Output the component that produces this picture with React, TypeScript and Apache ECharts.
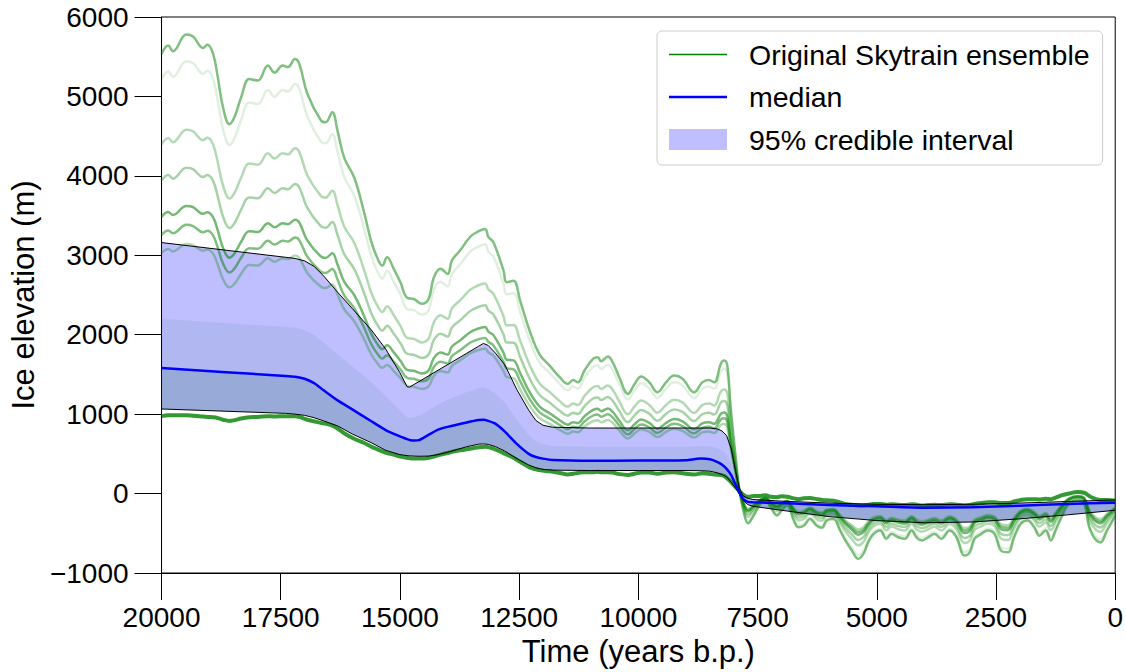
import React, { useEffect, useRef } from 'react';
import * as echarts from 'echarts';

// ---- time grid for the ensemble members (years b.p.) ----
const times = [
  20000, 19860, 19760, 19480, 19340, 19130, 19040, 18920, 18820, 18710,
  18575, 18470, 18330, 18160, 17980, 17770, 17630, 17460, 17350, 17200,
  17110, 16940, 16660, 16560, 16420, 16310, 16170, 15960, 15760, 15600,
  15480, 15370, 15270, 15130, 14990, 14850, 14710, 14540, 14400, 14290,
  14150, 14000, 13910, 13740, 13530, 13390, 13215, 13145, 13040, 12830,
  12760, 12620, 12480, 12280, 12070, 11860, 11650, 11480, 11370, 11270,
  11130, 10950, 10850, 10780, 10640, 10540, 10400, 10220, 10080, 9940,
  9770, 9600, 9420, 9250, 9075, 8830, 8660, 8520, 8410, 8270,
  8200, 8135, 8065, 7960, 7890, 7790, 7700, 7580, 7440, 7330,
  7230, 7090, 7000, 6880, 6740, 6640, 6530, 6400, 6260, 6150,
  6050, 5910, 5770, 5660, 5520, 5390, 5280, 5180, 5070, 4930,
  4800, 4690, 4550, 4410, 4270, 4170, 4060, 3920, 3790, 3650,
  3470, 3330, 3160, 3050, 2950, 2810, 2670, 2530, 2390, 2250,
  2120, 1980, 1840, 1700, 1590, 1460, 1350, 1250, 1110, 970,
  790, 650, 520, 310, 170, 0,
];

// most extreme member (highest at LGM, lowest in Holocene)
const ensembleA = [
  5536, 5640, 5570, 5780, 5755, 5610, 5650, 5540, 5240, 4860,
  4650, 4740, 4990, 5220, 5200, 5390, 5300, 5390, 5370, 5470,
  5410, 5030, 4700, 4675, 4800, 4570, 4230, 3980, 3560, 3170,
  2975, 2870, 2975, 2830, 2660, 2465, 2450, 2390, 2450, 2720,
  2830, 2765, 2935, 3060, 3230, 3290, 3330, 3230, 3165, 2810,
  2660, 2680, 2430, 2050, 1750, 1610, 1465, 1380, 1430, 1400,
  1550, 1695, 1715, 1665, 1725, 1655, 1465, 1255, 1380, 1475,
  1400, 1275, 1400, 1485, 1445, 1275, 1400, 1430, 1400, 1635,
  1675, 1610, 1090, 460, 80, -235, -375, -275, -130, -90,
  -170, -275, -215, -150, -340, -425, -405, -320, -405, -430,
  -340, -320, -465, -590, -720, -820, -760, -615, -510, -465,
  -570, -510, -550, -570, -465, -550, -590, -550, -510, -570,
  -465, -550, -780, -740, -570, -510, -465, -510, -720, -740,
  -550, -380, -340, -425, -530, -465, -590, -465, -275, -130,
  -90, -130, -465, -615, -465, -280,
];

const ensembleB = [
  5217, 5314, 5249, 5444, 5421, 5285, 5322, 5219, 4940, 4585,
  4389, 4473, 4707, 4922, 4904, 5081, 4997, 5081, 5062, 5155,
  5099, 4743, 4433, 4409, 4524, 4308, 3987, 3750, 3356, 2989,
  2806, 2706, 2802, 2666, 2506, 2324, 2309, 2254, 2310, 2562,
  2666, 2607, 2766, 2884, 3043, 3100, 3138, 3045, 2983, 2649,
  2508, 2524, 2288, 1930, 1648, 1517, 1381, 1300, 1347, 1320,
  1460, 1595, 1614, 1567, 1623, 1558, 1380, 1184, 1301, 1390,
  1321, 1203, 1321, 1400, 1362, 1203, 1320, 1347, 1319, 1537,
  1573, 1511, 1024, 433, 77, -220, -352, -258, -123, -85,
  -161, -259, -202, -142, -320, -400, -381, -301, -382, -406,
  -322, -304, -440, -558, -679, -773, -717, -582, -483, -442,
  -540, -484, -521, -540, -442, -521, -559, -522, -484, -540,
  -442, -521, -736, -698, -539, -483, -440, -482, -678, -697,
  -519, -359, -321, -400, -498, -437, -554, -436, -257, -121,
  -82, -120, -435, -578, -438, -267,
];

const ensembleC = [
  4396, 4476, 4424, 4581, 4561, 4450, 4479, 4395, 4168, 3878,
  3716, 3786, 3979, 4155, 4141, 4286, 4218, 4286, 4271, 4346,
  4299, 4005, 3748, 3726, 3814, 3633, 3363, 3158, 2830, 2525,
  2371, 2285, 2359, 2245, 2111, 1961, 1948, 1903, 1950, 2156,
  2245, 2201, 2333, 2431, 2564, 2613, 2645, 2569, 2515, 2235,
  2118, 2123, 1923, 1620, 1386, 1278, 1164, 1095, 1135, 1115,
  1230, 1339, 1355, 1316, 1361, 1308, 1160, 1000, 1098, 1173,
  1116, 1019, 1116, 1181, 1148, 1016, 1114, 1135, 1110, 1285,
  1311, 1255, 855, 365, 70, -181, -291, -214, -105, -73,
  -138, -218, -170, -123, -270, -336, -319, -254, -321, -343,
  -276, -263, -376, -475, -575, -653, -608, -496, -415, -381,
  -463, -416, -448, -464, -383, -448, -480, -449, -418, -464,
  -383, -448, -623, -591, -460, -413, -376, -410, -570, -585,
  -438, -305, -273, -336, -416, -365, -460, -361, -211, -98,
  -63, -95, -359, -481, -369, -233,
];

const ensembleD = [
  3940, 4011, 3965, 4102, 4084, 3986, 4010, 3937, 3739, 3485,
  3343, 3405, 3574, 3729, 3718, 3845, 3785, 3845, 3832, 3897,
  3854, 3595, 3367, 3347, 3419, 3258, 3016, 2829, 2538, 2267,
  2130, 2051, 2112, 2011, 1892, 1760, 1747, 1708, 1750, 1931,
  2011, 1976, 2092, 2180, 2297, 2342, 2371, 2304, 2255, 2005,
  1901, 1900, 1720, 1448, 1241, 1145, 1043, 981, 1017, 1001,
  1102, 1196, 1211, 1177, 1216, 1169, 1038, 898, 985, 1052,
  1003, 916, 1003, 1060, 1029, 913, 999, 1017, 994, 1145,
  1166, 1113, 761, 327, 66, -160, -258, -189, -95, -66,
  -125, -195, -152, -112, -242, -301, -284, -227, -288, -308,
  -251, -240, -341, -429, -517, -586, -547, -449, -377, -348,
  -420, -379, -407, -421, -350, -407, -436, -408, -381, -421,
  -350, -407, -560, -532, -416, -374, -341, -370, -510, -523,
  -393, -275, -246, -301, -371, -325, -408, -320, -186, -85,
  -52, -81, -316, -428, -330, -214,
];

const ensembleE = [
  3484, 3545, 3507, 3622, 3606, 3522, 3542, 3479, 3310, 3092,
  2969, 3023, 3170, 3303, 3294, 3403, 3352, 3403, 3392, 3447,
  3410, 3185, 2986, 2967, 3025, 2883, 2669, 2500, 2246, 2009,
  1888, 1817, 1866, 1777, 1672, 1558, 1546, 1513, 1550, 1705,
  1777, 1750, 1851, 1928, 2031, 2071, 2097, 2040, 1995, 1775,
  1684, 1677, 1517, 1276, 1095, 1012, 923, 867, 899, 887,
  974, 1054, 1067, 1037, 1070, 1030, 916, 796, 872, 931,
  889, 814, 889, 938, 910, 809, 885, 899, 878, 1005,
  1020, 971, 667, 289, 62, -138, -224, -165, -85, -59,
  -112, -172, -134, -101, -214, -265, -250, -201, -254, -273,
  -225, -217, -305, -383, -459, -519, -486, -401, -339, -314,
  -377, -341, -366, -379, -317, -366, -392, -368, -344, -379,
  -317, -366, -497, -472, -372, -335, -305, -330, -450, -461,
  -348, -245, -219, -265, -325, -285, -356, -278, -160, -72,
  -41, -67, -274, -374, -292, -195,
];

const ensembleF = [
  3256, 3313, 3278, 3383, 3368, 3290, 3308, 3250, 3095, 2895,
  2783, 2833, 2968, 3090, 3083, 3183, 3135, 3183, 3173, 3223,
  3188, 2980, 2795, 2778, 2828, 2695, 2495, 2335, 2100, 1880,
  1768, 1700, 1743, 1660, 1563, 1458, 1445, 1415, 1450, 1593,
  1660, 1638, 1730, 1803, 1898, 1935, 1960, 1908, 1865, 1660,
  1575, 1565, 1415, 1190, 1023, 945, 863, 810, 840, 830,
  910, 983, 995, 968, 998, 960, 855, 745, 815, 870,
  833, 763, 833, 878, 850, 758, 828, 840, 820, 935,
  948, 900, 620, 270, 60, -128, -208, -153, -80, -55,
  -105, -160, -125, -95, -200, -248, -233, -188, -238, -255,
  -213, -205, -288, -360, -430, -485, -455, -378, -320, -298,
  -355, -323, -345, -358, -300, -345, -370, -348, -325, -358,
  -300, -345, -465, -443, -350, -315, -288, -310, -420, -430,
  -325, -230, -205, -248, -303, -265, -330, -258, -148, -65,
  -35, -60, -253, -348, -273, -185,
];

const ensembleH = [
  3028, 3080, 3049, 3143, 3129, 3058, 3074, 3021, 2880, 2698,
  2596, 2642, 2766, 2877, 2871, 2962, 2918, 2962, 2953, 2998,
  2966, 2775, 2604, 2588, 2631, 2507, 2321, 2170, 1954, 1751,
  1647, 1583, 1620, 1543, 1453, 1357, 1344, 1317, 1350, 1480,
  1543, 1525, 1609, 1677, 1765, 1799, 1823, 1776, 1735, 1545,
  1466, 1453, 1313, 1104, 950, 878, 803, 753, 781, 773,
  846, 912, 923, 898, 925, 890, 794, 694, 758, 809,
  776, 712, 776, 817, 790, 706, 771, 781, 762, 865,
  875, 829, 573, 251, 58, -117, -191, -141, -75, -52,
  -99, -149, -116, -90, -186, -230, -216, -175, -221, -238,
  -200, -194, -270, -337, -401, -452, -425, -354, -301, -281,
  -334, -304, -325, -337, -284, -325, -348, -328, -307, -337,
  -284, -325, -434, -413, -328, -296, -270, -290, -390, -399,
  -303, -215, -192, -230, -280, -245, -304, -237, -135, -59,
  -30, -53, -232, -321, -254, -176,
];

// high-weight member near the lower edge at LGM (dark green)
const ensembleG = [
  975, 985, 985, 985, 980, 970, 965, 960, 950, 930,
  915, 925, 945, 960, 965, 975, 970, 975, 975, 975,
  965, 930, 890, 880, 855, 820, 760, 690, 640, 590,
  560, 530, 510, 490, 465, 450, 440, 440, 450, 465,
  490, 510, 525, 545, 565, 580, 590, 585, 565, 510,
  490, 450, 400, 330, 295, 280, 260, 240, 250, 260,
  270, 270, 275, 270, 270, 265, 245, 235, 250, 265,
  265, 250, 265, 270, 255, 240, 255, 250, 240, 235,
  220, 190, 150, 80, 40, -20, -40, -30, -30, -20,
  -40, -45, -35, -40, -60, -70, -60, -55, -70, -80,
  -85, -90, -110, -130, -140, -150, -150, -140, -130, -130,
  -140, -135, -140, -145, -135, -140, -150, -145, -140, -145,
  -135, -140, -150, -145, -130, -120, -110, -110, -120, -120,
  -100, -80, -70, -70, -75, -65, -70, -50, -20, 0,
  20, 10, -40, -80, -80, -90,
];

// ---- 95% credible interval and median ----
const bandTimes = [
  20000, 17400, 17200, 17000, 16800, 16600, 16300, 16000, 15600, 15300,
  15000, 14850, 14800, 14700, 14600, 14400, 14200, 14000, 13600, 13350,
  13250, 13150, 13000, 12800, 12550, 12300, 12150, 12000, 11800, 11000,
  10000, 9000, 8700, 8500, 8350, 8250, 8150, 8050, 7950, 7880,
  7800, 7700, 7600, 7000, 6000, 5000, 4000, 3000, 2000, 1000,
  0,
];
const bandUpper = [
  3160, 2975, 2960, 2930, 2860, 2740, 2530, 2330, 2060, 1820,
  1520, 1345, 1340, 1375, 1410, 1482, 1553, 1624, 1766, 1855,
  1890, 1865, 1770, 1620, 1310, 1050, 920, 860, 835, 825,
  825, 825, 825, 825, 815, 790, 730, 560, 250, 60,
  -30, -60, -75, -95, -120, -135, -140, -135, -120, -100,
  -80,
];
const bandMedian = [
  1580, 1480, 1470, 1445, 1390, 1300, 1170, 1060, 910, 800,
  720, 685, 675, 668, 672, 740, 805, 840, 895, 925,
  928, 915, 880, 780, 625, 500, 460, 440, 422, 412,
  415, 420, 440, 432, 400, 365, 310, 230, 100, 10,
  -70, -105, -110, -120, -145, -160, -178, -172, -152, -130,
  -115,
];
const bandLower = [
  1065, 1010, 1000, 985, 955, 915, 850, 750, 640, 545,
  490, 478, 475, 472, 470, 472, 490, 520, 590, 622,
  625, 620, 592, 535, 440, 360, 325, 305, 295, 290,
  290, 290, 288, 282, 262, 240, 210, 140, 60, -10,
  -90, -140, -160, -210, -290, -340, -368, -358, -318, -268,
  -210,
];
// upper edge of the densely packed members seen through the band
const denseUpper = [
  2200, 2100, 2090, 2060, 2000, 1900, 1750, 1600, 1400, 1230,
  1050, 960, 950, 960, 980, 1050, 1120, 1180, 1280, 1330,
  1340, 1320, 1260, 1150, 930, 740, 660, 620, 600, 590,
  590, 590, 600, 595, 570, 545, 500, 380, 170, 30,
  -40, -70, -85, -105, -130, -145, -150, -145, -130, -110,
  -90,
];

const FONT = '"Liberation Sans", Arial, Helvetica, sans-serif';
const ENSEMBLE = 'Original Skytrain ensemble';
const MEDIAN = 'median';
const INTERVAL = '95% credible interval';

const members = [
  { values: ensembleB, color: 'rgba(0,128,0,0.12)', width: 2.5 },
  { values: ensembleC, color: 'rgba(0,128,0,0.3)', width: 2.5 },
  { values: ensembleD, color: 'rgba(0,128,0,0.35)', width: 2.5 },
  { values: ensembleE, color: 'rgba(0,128,0,0.55)', width: 2.5 },
  { values: ensembleF, color: 'rgba(0,128,0,0.5)', width: 2.5 },
  { values: ensembleH, color: 'rgba(0,128,0,0.3)', width: 2.5 },
  { values: ensembleA, color: 'rgba(0,128,0,0.5)', width: 2.5 },
  { values: ensembleG, color: 'rgba(0,128,0,0.8)', width: 4 },
];

function pairs(ts: number[], vs: number[]) {
  return ts.map((t, i) => [t, vs[i]]);
}

function fillBetween(lower: number[], upper: number[], fill: string) {
  return (params: any, api: any) => {
    if (params.dataIndex !== 0) return null;
    const pts: number[][] = [];
    for (let i = 0; i < bandTimes.length; i++) pts.push(api.coord([bandTimes[i], upper[i]]));
    for (let i = bandTimes.length - 1; i >= 0; i--) pts.push(api.coord([bandTimes[i], lower[i]]));
    return { type: 'polygon', shape: { points: pts }, style: { fill }, silent: true };
  };
}

// legend icons: thin horizontal bars centred in a 58 x 21 box
const ICON_GREEN = 'path://M0,0L0,0M0,9.75L58,9.75L58,11.25L0,11.25ZM58,21L58,21';
const ICON_BLUE = 'path://M0,0L0,0M0,9.25L58,9.25L58,11.75L0,11.75ZM58,21L58,21';

export default function App() {
  const ref = useRef<HTMLDivElement>(null);
  useEffect(() => {
    const chart = echarts.init(ref.current as HTMLDivElement, null, { renderer: 'svg' });
    const bandData = bandTimes.map((t, i) => [t, bandLower[i], bandUpper[i]]);

    const series: any[] = members.map((m) => ({
      name: ENSEMBLE,
      type: 'line',
      data: pairs(times, m.values),
      smooth: 0.4,
      symbol: 'none',
      showSymbol: false,
      silent: true,
      lineStyle: { color: m.color, width: m.width },
      itemStyle: { color: m.color },
    }));

    series.push({
      name: 'ensemble density',
      type: 'custom',
      data: bandData,
      encode: { x: 0, y: [1, 2] },
      silent: true,
      renderItem: fillBetween(bandLower, denseUpper, 'rgba(0,128,0,0.07)'),
    });
    series.push({
      name: 'ensemble core',
      type: 'custom',
      data: bandData,
      encode: { x: 0, y: [1, 2] },
      silent: true,
      renderItem: fillBetween(bandLower, bandMedian, 'rgba(0,128,0,0.14)'),
    });
    series.push({
      name: INTERVAL,
      type: 'custom',
      data: bandData,
      encode: { x: 0, y: [1, 2] },
      silent: true,
      itemStyle: { color: 'rgba(0,0,255,0.25)' },
      renderItem: fillBetween(bandLower, bandUpper, 'rgba(0,0,255,0.25)'),
    });
    series.push({
      name: 'upper bound',
      type: 'line',
      data: pairs(bandTimes, bandUpper),
      symbol: 'none',
      silent: true,
      lineStyle: { color: '#000', width: 1 },
    });
    series.push({
      name: 'lower bound',
      type: 'line',
      data: pairs(bandTimes, bandLower),
      symbol: 'none',
      silent: true,
      lineStyle: { color: '#000', width: 1 },
    });
    series.push({
      name: MEDIAN,
      type: 'line',
      data: pairs(bandTimes, bandMedian),
      symbol: 'none',
      smooth: 0.2,
      silent: true,
      lineStyle: { color: '#0000ff', width: 2.5 },
      itemStyle: { color: '#0000ff' },
    });

    chart.setOption({
      animation: false,
      textStyle: { fontFamily: FONT },
      grid: {
        left: 160, right: 9, top: 17, bottom: 99,
        show: true, borderColor: '#000', borderWidth: 1, backgroundColor: 'transparent',
      },
      legend: {
        orient: 'vertical',
        left: 657,
        top: 31,
        padding: [9, 13, 11, 12],
        itemGap: 13.5,
        itemWidth: 58,
        itemHeight: 21,
        borderColor: '#cccccc',
        borderWidth: 1,
        borderRadius: 5,
        backgroundColor: '#ffffff',
        selectedMode: false,
        textStyle: { fontSize: 28.5, color: '#000', fontFamily: FONT, padding: [0, 0, 0, 17] },
        data: [
          { name: ENSEMBLE, icon: ICON_GREEN, itemStyle: { color: '#008000', borderWidth: 0 } },
          { name: MEDIAN, icon: ICON_BLUE, itemStyle: { color: '#0000ff', borderWidth: 0 } },
          { name: INTERVAL, icon: 'rect', itemStyle: { color: 'rgba(0,0,255,0.25)', borderWidth: 0 } },
        ],
      },
      xAxis: {
        type: 'value',
        min: 0,
        max: 20000,
        interval: 2500,
        inverse: true,
        name: 'Time (years b.p.)',
        nameLocation: 'middle',
        nameGap: 61,
        nameTextStyle: { fontSize: 31, color: '#000', fontFamily: FONT },
        axisLine: { show: true, onZero: false, lineStyle: { color: '#000', width: 1 } },
        axisTick: { show: true, inside: false, length: 27, lineStyle: { color: '#000', width: 1 } },
        axisLabel: { fontSize: 28, color: '#000', margin: 30, fontFamily: FONT, formatter: (v: number) => String(v) },
        splitLine: { show: false },
      },
      yAxis: {
        type: 'value',
        min: -1000,
        max: 6000,
        interval: 1000,
        name: 'Ice elevation (m)',
        nameLocation: 'middle',
        nameGap: 114,
        nameTextStyle: { fontSize: 31, color: '#000', fontFamily: FONT },
        axisLine: { show: true, onZero: false, lineStyle: { color: '#000', width: 1 } },
        axisTick: { show: true, inside: false, length: 27, lineStyle: { color: '#000', width: 1 } },
        axisLabel: {
          fontSize: 28, color: '#000', margin: 33, fontFamily: FONT,
          formatter: (v: number) => (v < 0 ? '\u2212' + Math.abs(v) : String(v)),
        },
        splitLine: { show: false },
      },
      series,
    });
    return () => chart.dispose();
  }, []);

  return (
    <div
      ref={ref}
      style={{ position: 'absolute', left: 0, top: 0, width: 1126, height: 672, background: '#fff' }}
    />
  );
}
